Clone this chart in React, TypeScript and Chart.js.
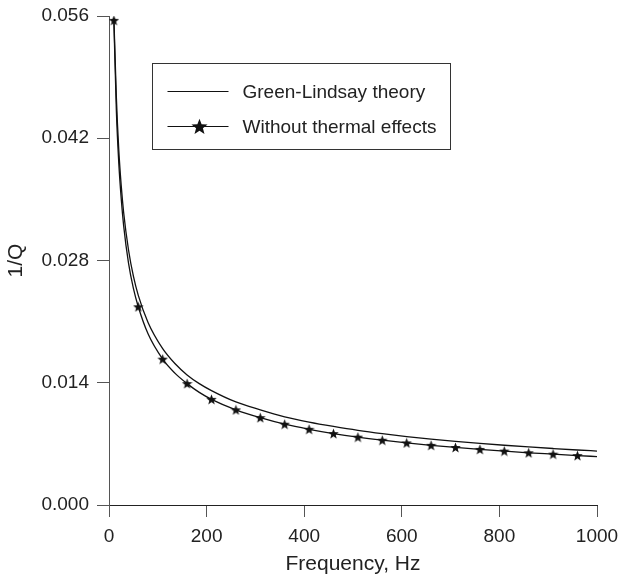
import React, { useEffect, useRef } from "react";
import { Chart, registerables } from "chart.js";

Chart.register(...registerables);

const freqs = [10, 15, 20, 25, 30, 40, 50, 60, 80, 110, 135, 160, 185, 210, 260, 310, 360, 410, 460, 510, 560, 610, 660, 710, 760, 810, 860, 910, 960, 1000];
const greenLindsay = [0.0558, 0.0468, 0.0407, 0.0366, 0.0335, 0.0292, 0.0262, 0.024, 0.0209, 0.0179, 0.0162, 0.0149, 0.0139, 0.0131, 0.0118, 0.0109, 0.0101, 0.0095, 0.009, 0.00855, 0.00817, 0.00784, 0.00755, 0.00729, 0.00705, 0.00684, 0.00665, 0.00647, 0.0063, 0.00618];
const withoutThermal = [0.0555, 0.0453, 0.0392, 0.0351, 0.032, 0.0277, 0.0248, 0.0227, 0.0196, 0.0167, 0.0151, 0.0139, 0.0129, 0.0121, 0.0109, 0.01, 0.00925, 0.00867, 0.00818, 0.00777, 0.00742, 0.00711, 0.00683, 0.00659, 0.00637, 0.00617, 0.00598, 0.00582, 0.00566, 0.00555];
const markerFreqs = [10, 60, 110, 160, 210, 260, 310, 360, 410, 460, 510, 560, 610, 660, 710, 760, 810, 860, 910, 960];
const seriesLabels = ["Green-Lindsay theory", "Without thermal effects"];
const xTicks = [0, 200, 400, 600, 800, 1000];
const yTicks = [0, 0.014, 0.028, 0.042, 0.056];
const xTitle = "Frequency, Hz";
const yTitle = "1/Q";

const FONT = "'Liberation Sans', Arial, Helvetica, sans-serif";

function makeStar(size: number, color: string) {
  const c = document.createElement("canvas");
  c.width = size;
  c.height = size;
  const ctx = c.getContext("2d")!;
  const cx = size / 2, cy = size / 2 + size * 0.04;
  const R = size / 2, r = R * 0.42;
  ctx.beginPath();
  for (let i = 0; i < 10; i++) {
    const rad = i % 2 === 0 ? R : r;
    const a = -Math.PI / 2 + (i * Math.PI) / 5;
    const px = cx + rad * Math.cos(a), py = cy + rad * Math.sin(a);
    if (i === 0) ctx.moveTo(px, py); else ctx.lineTo(px, py);
  }
  ctx.closePath();
  ctx.fillStyle = color;
  ctx.fill();
  return c;
}

export default function App() {
  const ref = useRef<HTMLCanvasElement | null>(null);
  useEffect(() => {
    if (!ref.current) return;
    const starSmall = makeStar(11, "#111");
    const starBig = makeStar(17, "#111");

    const legendBox = {
      id: "legendBox",
      afterDraw(chart: any) {
        const { ctx, chartArea } = chart;
        const left = chartArea.left + 43.5;
        const top = chartArea.top + 47.5;
        const w = 298, h = 86;
        ctx.save();
        ctx.strokeStyle = "#333";
        ctx.lineWidth = 1;
        ctx.strokeRect(left, top, w, h);
        const rows = [top + 27, top + 62];
        ctx.font = `19px ${FONT}`;
        ctx.fillStyle = "#222";
        ctx.textBaseline = "middle";
        ctx.textAlign = "left";
        chart.data.datasets.forEach((ds: any, i: number) => {
          const y = Math.round(rows[i]) + 0.5;
          ctx.beginPath();
          ctx.strokeStyle = "#111";
          ctx.lineWidth = 1.2;
          ctx.moveTo(left + 15, y);
          ctx.lineTo(left + 76, y);
          ctx.stroke();
          if (i === 1) {
            ctx.drawImage(starBig, left + 47 - 8.5, y - 8.5);
          }
          ctx.fillText(ds.label, left + 90, y + 1);
        });
        ctx.restore();
      },
    };

    const chart = new Chart(ref.current, {
      type: "line",
      data: {
        datasets: [
          {
            label: seriesLabels[0],
            data: freqs.map((f, i) => ({ x: f, y: greenLindsay[i] })),
            borderColor: "#111",
            borderWidth: 1.3,
            pointRadius: 0,
            cubicInterpolationMode: "monotone",
            fill: false,
          },
          {
            label: seriesLabels[1],
            data: freqs.map((f, i) => ({ x: f, y: withoutThermal[i] })),
            borderColor: "#111",
            borderWidth: 1.3,
            pointRadius: freqs.map((f) => (markerFreqs.includes(f) ? 5 : 0)),
            pointStyle: starSmall as any,
            cubicInterpolationMode: "monotone",
            fill: false,
          },
        ],
      },
      options: {
        animation: false,
        responsive: false,
        layout: { padding: { top: 16, right: 21, bottom: 0, left: 0 } },
        plugins: { legend: { display: false }, tooltip: { enabled: false } },
        scales: {
          x: {
            type: "linear",
            min: 0,
            max: 1000,
            afterFit: (s: any) => { s.height = 74; s.paddingRight = 0; s.paddingLeft = 0; },
            afterBuildTicks: (s: any) => { s.ticks = xTicks.map((v) => ({ value: v })); },
            ticks: {
              font: { size: 19, family: FONT },
              color: "#222",
              padding: 8,
              maxRotation: 0,
              autoSkip: false,
              callback: (v: any) => String(v),
            },
            grid: { drawOnChartArea: false, drawTicks: true, tickLength: 12, color: "#555", lineWidth: 1 },
            border: { display: true, color: "#222", width: 1 },
            title: { display: true, text: xTitle, font: { size: 21, family: FONT }, color: "#222", padding: { top: 0, bottom: 2 } },
          },
          y: {
            type: "linear",
            min: 0,
            max: 0.056,
            afterFit: (s: any) => { s.width = 109; s.paddingTop = 0; s.paddingBottom = 0; },
            afterBuildTicks: (s: any) => { s.ticks = yTicks.map((v) => ({ value: v })); },
            ticks: {
              font: { size: 19, family: FONT },
              color: "#222",
              padding: 8,
              callback: (v: any) => Number(v).toFixed(3),
            },
            grid: { drawOnChartArea: false, drawTicks: true, tickLength: 12, color: "#555", lineWidth: 1 },
            border: { display: true, color: "#555", width: 1 },
            title: { display: true, text: yTitle, font: { size: 21, family: FONT }, color: "#222", padding: { top: 4, bottom: 0 } },
          },
        },
      },
      plugins: [legendBox],
    });
    return () => chart.destroy();
  }, []);
  return (
    <div style={{ position: "absolute", left: 0, top: 0, width: 618, height: 579, background: "#fff" }}>
      <canvas ref={ref} width={618} height={579} style={{ display: "block" }} />
    </div>
  );
}
